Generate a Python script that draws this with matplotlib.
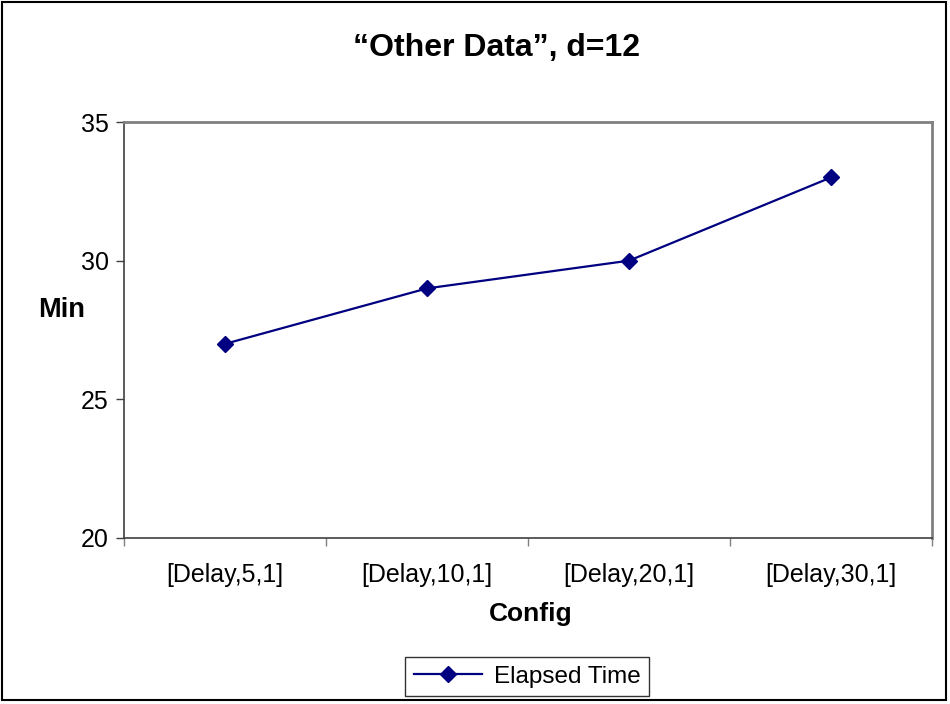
import matplotlib
matplotlib.use("Agg")
import matplotlib.pyplot as plt
from matplotlib.patches import Rectangle

# Data
configs = ["[Delay,5,1]", "[Delay,10,1]", "[Delay,20,1]", "[Delay,30,1]"]
elapsed = [27, 29, 30, 33]
yticks = [20, 25, 30, 35]

plt.rcParams['font.family'] = ['Liberation Sans', 'DejaVu Sans']
NAVY = '#000080'

fig = plt.figure(figsize=(9.5, 7.04), dpi=100)
ax = fig.add_axes([0.1305, 0.2358, 0.8505, 0.5909])

x = list(range(len(configs)))
line, = ax.plot(x, elapsed, color=NAVY, linewidth=1.6, marker='D',
                markersize=8, markerfacecolor=NAVY, markeredgecolor=NAVY,
                label='Elapsed Time')

ax.set_xlim(-0.5, len(configs) - 0.5)
ax.set_ylim(20, 35)
ax.set_yticks(yticks)
ax.set_xticks(x)
ax.set_xticklabels(configs)
ax.set_xticks([i - 0.5 for i in range(len(configs) + 1)], minor=True)
ax.tick_params(axis='x', which='major', length=0, pad=18, labelsize=18)
ax.tick_params(axis='x', which='minor', length=6, width=1, color='#808080')
ax.tick_params(axis='y', length=6, width=1, color='#404040', labelsize=18, pad=5)

for s in ['top', 'right']:
    ax.spines[s].set_color('#808080')
    ax.spines[s].set_linewidth(2)
for s in ['left', 'bottom']:
    ax.spines[s].set_color('#404040')
    ax.spines[s].set_linewidth(1.2)

fig.text(0.523, 0.932, '\u201cOther Data\u201d, d=12', ha='center', va='center',
         fontsize=23, fontweight='bold')
fig.text(0.065, 0.56, 'Min', ha='center', va='center', fontsize=19.5, fontweight='bold')
fig.text(0.559, 0.128, 'Config', ha='center', va='center', fontsize=19, fontweight='bold')

leg = fig.legend(handles=[line], loc='center', bbox_to_anchor=(0.555, 0.039),
                 fontsize=17.5, frameon=True, fancybox=False, edgecolor='black',
                 handlelength=2.8, handletextpad=0.5, borderpad=0.35)
leg.get_frame().set_linewidth(1)

fig.patches.append(Rectangle((0.002, 0.005), 0.994, 0.992, transform=fig.transFigure,
                             fill=False, edgecolor='black', linewidth=1.5))

fig.savefig('out.png', dpi=100)
